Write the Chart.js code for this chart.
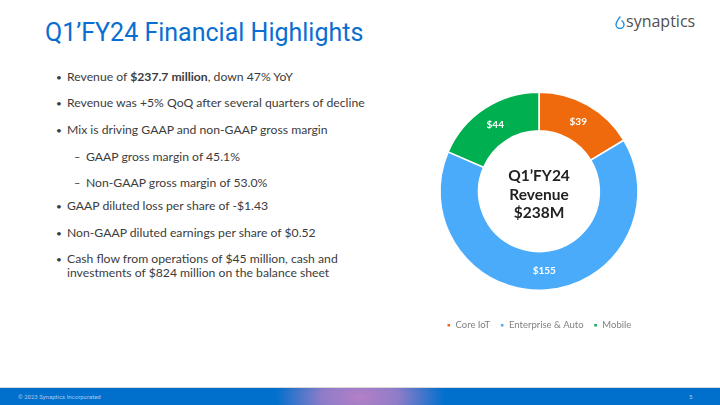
<!DOCTYPE html>
<html>
<head>
<meta charset="utf-8">
<script src="https://cdn.jsdelivr.net/npm/chart.js@4"></script>
<style>
  html, body { margin: 0; padding: 0; }
  body { width: 720px; height: 405px; position: relative; overflow: hidden; background: #fff; font-family: Lato, "Open Sans", sans-serif; }
  .title { position: absolute; left: 45px; top: 18px; font-family: Roboto, sans-serif; font-size: 25px; color: #0A6ED1; }
  .logo { position: absolute; left: 615px; top: 10px; font-family: "Open Sans", sans-serif; font-size: 16px; color: #505050; }
  .logo svg { vertical-align: -2px; margin-right: 1px; }
  .line { position: absolute; font-size: 12.2px; line-height: 14px; color: #3c3c3c; white-space: nowrap; }
  .line .mk { position: absolute; left: -11px; font-size: 10px; }
  .sub .mk { left: -12px; font-size: 11px; }
  .footer { position: absolute; left: 0; top: 387px; width: 720px; height: 18px; border-top: 1px solid #d8d8d8;
    background: radial-gradient(ellipse 85px 40px at 360px 50%, #b480c6 0%, #8f7cc8 45%, rgba(0,112,204,0) 100%), #0070CC; }
  .footer .copy { position: absolute; left: 18px; top: 5px; font-size: 6px; color: #a9c8ec; font-family: Roboto, sans-serif; }
  .footer .page { position: absolute; left: 689px; top: 5px; font-size: 6px; color: #a9c8ec; font-family: Roboto, sans-serif; }
  #wrap { position: absolute; left: 429px; top: 72px; width: 220px; height: 268px; }
</style>
</head>
<body>
<div class="title">Q1’FY24 Financial Highlights</div>
<div class="logo"><svg width="10" height="13" viewBox="0 0 10 13"><path d="M5 1 C3 4 1 6 1 8.5 A4 4 0 0 0 9 8.5 C9 7 8 5.6 7 4.8" fill="none" stroke="#1e8fe0" stroke-width="1.4" stroke-linecap="round"/></svg>synaptics</div>

<div class="line" style="left:67px; top:70px;"><span class="mk">•</span>Revenue of <b>$237.7 million</b>, down 47% YoY</div>
<div class="line" style="left:67px; top:96px;"><span class="mk">•</span>Revenue was +5% QoQ after several quarters of decline</div>
<div class="line" style="left:67px; top:123px;"><span class="mk">•</span>Mix is driving GAAP and non-GAAP gross margin</div>
<div class="line sub" style="left:86px; top:150px;"><span class="mk">–</span>GAAP gross margin of 45.1%</div>
<div class="line sub" style="left:86px; top:176px;"><span class="mk">–</span>Non-GAAP gross margin of 53.0%</div>
<div class="line" style="left:67px; top:199px;"><span class="mk">•</span>GAAP diluted loss per share of -$1.43</div>
<div class="line" style="left:67px; top:226px;"><span class="mk">•</span>Non-GAAP diluted earnings per share of $0.52</div>
<div class="line" style="left:67px; top:252px;"><span class="mk">•</span>Cash flow from operations of $45 million, cash and<br>investments of $824 million on the balance sheet</div>

<div id="wrap"><canvas id="revChart"></canvas></div>

<div class="footer"><span class="copy">© 2023 Synaptics Incorporated</span><span class="page">5</span></div>

<script>
const segments = ['Core IoT', 'Enterprise & Auto', 'Mobile'];
const revenue = [39, 155, 44];
const segColors = ['#EF6A0C', '#4AABFB', '#00AF50'];
const centerLines = ['Q1’FY24', 'Revenue', '$238M'];

const sliceLabels = {
    id: 'sliceLabels',
    afterDatasetsDraw(chart) {
        const ctx = chart.ctx;
        const meta = chart.getDatasetMeta(0);
        ctx.save();
        ctx.font = 'bold 10px Lato';
        ctx.fillStyle = '#fff';
        ctx.textAlign = 'center';
        ctx.textBaseline = 'middle';
        meta.data.forEach(function (arc, i) {
            const p = arc.tooltipPosition();
            ctx.fillText('$' + revenue[i], p.x, p.y);
        });
        // text in the hole
        const c = meta.data[0];
        ctx.font = 'bold 15.5px Lato';
        ctx.fillStyle = '#222';
        centerLines.forEach(function (t, i) {
            ctx.fillText(t, c.x, c.y - 15 + i * 18.5);
        });
        ctx.restore();
    }
};

new Chart(document.getElementById('revChart').getContext('2d'), {
    type: 'doughnut',
    data: {
        labels: segments,
        datasets: [{
            data: revenue,
            backgroundColor: segColors,
            borderColor: '#fff',
            borderWidth: 1.5
        }]
    },
    options: {
        responsive: true,
        maintainAspectRatio: false,
        animation: false,
        radius: 99,
        cutout: '61%',
        layout: { padding: 0 },
        plugins: {
            tooltip: { enabled: false },
            legend: {
                position: 'bottom',
                labels: {
                    boxWidth: 4,
                    boxHeight: 4,
                    padding: 10,
                    color: '#808080',
                    font: { family: 'Lato', size: 9.5 }
                }
            }
        }
    },
    plugins: [sliceLabels]
});
</script>
</body>
</html>
